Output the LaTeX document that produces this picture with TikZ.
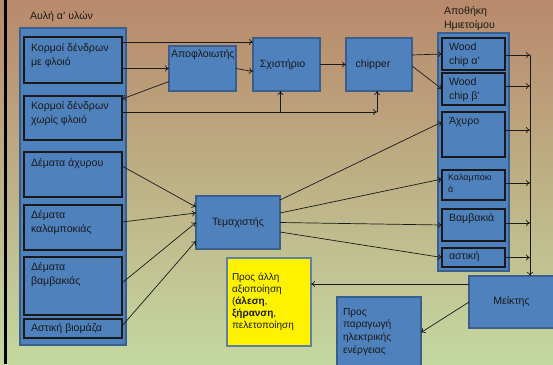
\documentclass[tikz,border=0pt]{standalone}
\usepackage{fontspec}
\setmainfont{Liberation Sans}
\usetikzlibrary{arrows.meta,calc}
\definecolor{bgtop}{HTML}{B8896B}
\definecolor{bgmid}{HTML}{9DBA6F}
\definecolor{bgbot}{HTML}{C4D8A0}
\definecolor{blueF}{HTML}{4F81BD}
\definecolor{blueD}{HTML}{3A5F8C}
\definecolor{inkc}{HTML}{1A1A1A}
\tikzset{
  ctr/.style={fill=blueF, draw=blueD, line width=1.6pt, inner sep=0pt, outer sep=0pt},
  ib/.style={fill=blueF, draw=black!90, line width=1.1pt, inner sep=0pt, outer sep=0pt},
  pb/.style={fill=blueF, draw=blueD, line width=1.3pt, inner sep=0pt, outer sep=0pt},
  yb/.style={fill=yellow, draw=blueD!80, line width=1.4pt, inner sep=0pt, outer sep=0pt},
  txt/.style={inner sep=0pt, outer sep=0pt, align=left, text=inkc, font=\fontsize{10.6}{13.5}\selectfont},
  arr/.style={draw=inkc, line width=0.7pt, -{To[length=4pt,width=6pt]}},
  ln/.style={draw=inkc, line width=0.7pt}
}
\newcommand{\bx}[6]{\node[#6, anchor=north west, minimum width={(#4-#2)*1pt}, minimum height={(#5-#3)*1pt}] (#1) at (#2,#3) {};}
\begin{document}
\begin{tikzpicture}[x=1pt,y=-1pt]
\useasboundingbox (0,0) rectangle (553,364);
\shade[top color=bgtop, middle color=bgmid, bottom color=bgbot] (0,0) rectangle (553,364);
\fill[black] (4,0) rectangle (7,364);

% left container
\bx{L}{20}{28}{126}{345}{ctr}
\node[txt, anchor=west] (Lt) at (30,17) {Αυλή α’ υλών};
\bx{k1}{24}{37}{122}{83}{ib}
\bx{k2}{24}{96}{122}{140}{ib}
\bx{k3}{24}{152}{122}{197}{ib}
\bx{k4}{24}{205}{122}{250}{ib}
\bx{k5}{24}{257}{122}{315}{ib}
\bx{k6}{24}{319}{122}{338}{ib}
\node[txt, anchor=north west] (k1t) at ([xshift=7pt,yshift=-7pt]k1.north west) {Κορμοί δένδρων\\με φλοιό};
\node[txt, anchor=north west] (k2t) at ([xshift=7pt,yshift=-6pt]k2.north west) {Κορμοί δένδρων\\χωρίς φλοιό};
\node[txt, anchor=north west] (k3t) at ([xshift=7pt,yshift=-6.5pt]k3.north west) {Δέματα άχυρου};
\node[txt, anchor=north west] (k4t) at ([xshift=7pt,yshift=-6pt]k4.north west) {Δέματα\\καλαμποκιάς};
\node[txt, anchor=north west] (k5t) at ([xshift=7pt,yshift=-6pt]k5.north west) {Δέματα\\βαμβακιάς};
\node[txt, anchor=west] (k6t) at ([xshift=7pt]k6.west) {Αστική βιομάζα};

% process boxes
\bx{ap}{169}{46}{236}{91}{pb}
\bx{sx}{253}{38}{320}{91}{pb}
\bx{ch}{346}{38}{412}{91}{pb}
\bx{tm}{196}{196}{280}{249}{pb}
\bx{ye}{227}{258}{311}{346}{yb}
\bx{pe}{337}{297}{421}{368}{pb}
\bx{mk}{469}{276}{556}{328}{pb}
\node[txt, anchor=west] (apt) at ([xshift=2pt,yshift=-9pt]ap.north west) {Αποφλοιωτής};
\node[txt] (sxt) at ([xshift=-4pt]sx.center) {Σχιστήριο};
\node[txt] (cht) at ([xshift=-6pt]ch.center) {chipper};
\node[txt] (tmt) at (tm.center) {Τεμαχιστής};
\node[txt] (mkt) at ([xshift=-1pt]mk.center) {Μείκτης};
\node[txt, anchor=north west, font=\fontsize{10}{12}\selectfont] (yet) at ([xshift=5pt,yshift=-15pt]ye.north west) {Προς άλλη\\αξιοποίηση\\(\textbf{άλεση},\\\textbf{ξήρανση},\\πελετοποίηση};
\node[txt, anchor=north west, font=\fontsize{10.2}{12.7}\selectfont] (pet) at ([xshift=6pt,yshift=-11pt]pe.north west) {Προς\\παραγωγή\\ηλεκτρικής\\ενέργειας};

% right container
\bx{R}{438}{33}{509}{271}{ctr}
\node[txt, anchor=north west] (Rt) at (444,7) {Αποθήκη\\Ημιετοίμου};
\bx{w1}{442}{38}{505}{70}{ib}
\bx{w2}{442}{73}{505}{105}{ib}
\bx{ax}{442}{112}{505}{157}{ib}
\bx{ka}{442}{170}{505}{200}{ib}
\bx{va}{442}{209}{505}{241}{ib}
\bx{as}{442}{248}{505}{267}{ib}
\node[txt, anchor=north west] (w1t) at ([xshift=7pt,yshift=-5pt]w1.north west) {Wood\\chip α’};
\node[txt, anchor=north west] (w2t) at ([xshift=7pt,yshift=-5pt]w2.north west) {Wood\\chip β’};
\node[txt, anchor=north west] (axt) at ([xshift=7pt,yshift=-5pt]ax.north west) {Άχυρο};
\node[txt, anchor=north west, font=\fontsize{9}{12}\selectfont] (kat) at ([xshift=6pt,yshift=-4pt]ka.north west) {Καλαμποκι\\ά};
\node[txt, anchor=north west] (vat) at ([xshift=7pt,yshift=-5pt]va.north west) {Βαμβακιά};
\node[txt, anchor=west] (ast) at ([xshift=7pt,yshift=1pt]as.west) {αστική};

% connectors left
\coordinate (chs) at ([xshift=-2pt]ch.south);
\coordinate (sxs) at ([xshift=-6pt]sx.south);
\coordinate (k2o) at ([yshift=6pt]k2.east);
\draw[arr] ([yshift=-5pt]k1.north east) -- ([yshift=-5pt]k1.north east -| sx.west);
\draw[arr] (k1.east |- ap.west) -- (ap.west);
\draw[arr] (ap.east) -- ([yshift=-7pt]sx.west);
\draw[arr] ([yshift=-13pt]ap.west) -- ([yshift=-3pt]k2.north east);
\coordinate (j1) at (k2o -| chs);
\coordinate (j2) at (k2o -| sxs);
\draw[arr] (k2o) -- (j1);
\draw[arr] (j1) -- (chs);
\draw[arr] (j2) -- (sxs);
\draw[arr] (sx.east) -- (ch.west);
\draw[arr] ([yshift=9.5pt]ch.east) -- (w1.west);
\draw[arr] ([yshift=-1.5pt]ch.east) -- (w2.west);

\draw[arr] ([yshift=8.5pt]k3.east) -- ([yshift=15.5pt]tm.west);
\draw[arr] ([yshift=5.5pt]k4.east) -- ([yshift=9.5pt]tm.west);
\draw[arr] ([yshift=3pt]k5.east) -- (tm.west);
\draw[arr] ([yshift=2.5pt]k6.east) -- ([yshift=-18.5pt]tm.west);

\draw[arr] ([yshift=22.5pt]tm.east) -- ([yshift=-10pt]ax.north west);
\draw[arr] ([yshift=9.5pt]tm.east) -- ([yshift=6pt]ka.west);
\draw[arr] (tm.east) -- (va.west);
\draw[arr] ([yshift=-9.5pt]tm.east) -- (as.west);

% collector bus
\coordinate (bus) at (530,0);
\draw[arr] ([yshift=-1pt]w1.east) -- ([yshift=-1pt]w1.east -| bus);
\draw[arr] ([yshift=3pt]w2.east) -- ([yshift=3pt]w2.east -| bus);
\draw[arr] ([yshift=4.5pt]ax.east) -- ([yshift=4.5pt]ax.east -| bus);
\draw[arr] ([yshift=2pt]ka.east) -- ([yshift=2pt]ka.east -| bus);
\draw[arr] ([yshift=2pt]va.east) -- ([yshift=2pt]va.east -| bus);
\draw[arr] (as.east) -- (as.east -| bus);
\draw[arr] ([yshift=-1pt]w1.east -| bus) -- (bus |- mk.north);

\draw[arr] ([yshift=18pt]mk.west) -- ([yshift=18pt]mk.west -| ye.east);
\draw[arr] (mk.west) -- (pe.east);
\end{tikzpicture}
\end{document}
